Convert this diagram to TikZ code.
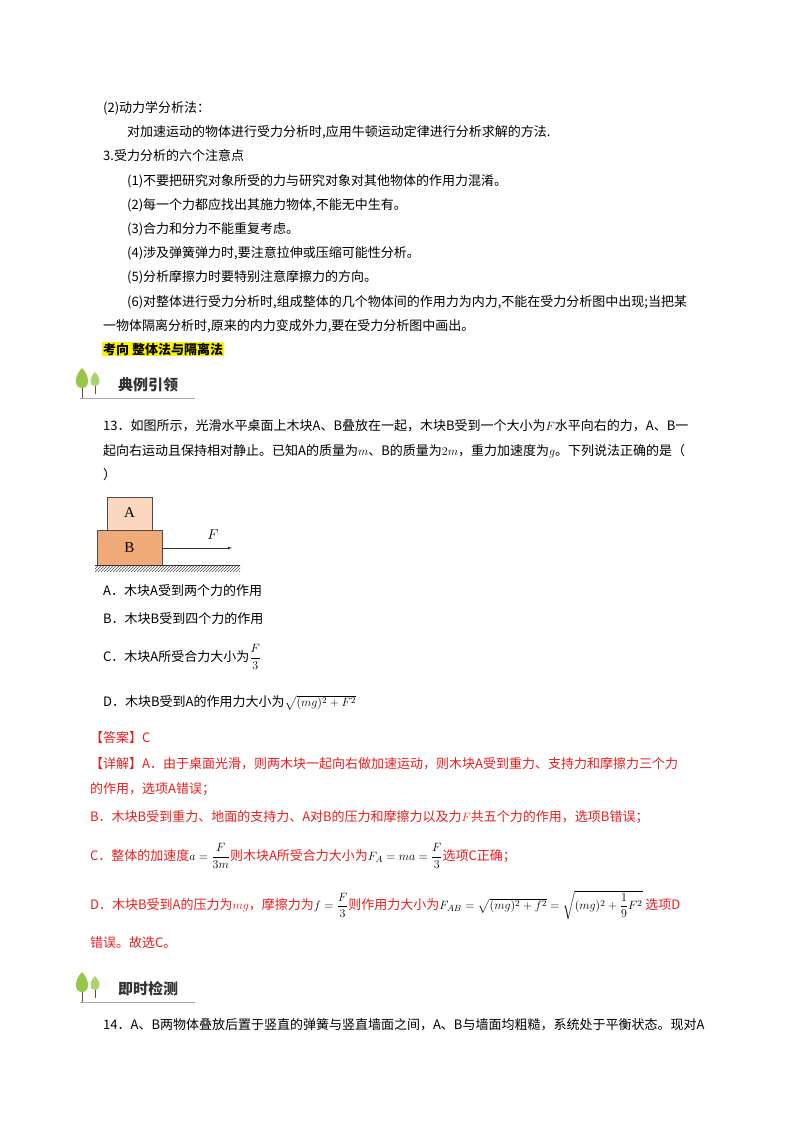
\documentclass[tikz,border=0pt]{standalone}
\usepackage{amsmath}
\usepackage{fontspec}
\setmainfont{Noto Sans CJK SC}
\usetikzlibrary{patterns}
\definecolor{ans}{RGB}{235,30,30}
\definecolor{boxA}{RGB}{250,215,190}
\definecolor{boxB}{RGB}{240,170,120}
\definecolor{leaf}{RGB}{150,200,70}
\begin{document}
\begin{tikzpicture}[x=1pt,y=-1pt,
  tx/.style={anchor=west,inner sep=0pt,font=\fontsize{13}{16}\selectfont},
  rt/.style={tx,text=ans},
  badge/.style={anchor=west,inner sep=0pt,font=\fontsize{15}{18}\selectfont\bfseries,text=black!80}]
\useasboundingbox[fill=white] (0,0) rectangle (800,1132);
\node[tx] (l1) at (103,108) {(2)动力学分析法：};
\node[tx] (l2) at (127,132) {对加速运动的物体进行受力分析时,应用牛顿运动定律进行分析求解的方法.};
\node[tx] (l3) at (103,156) {3.受力分析的六个注意点};
\node[tx] (l4) at (127,181) {(1)不要把研究对象所受的力与研究对象对其他物体的作用力混淆。};
\node[tx] (l5) at (127,205) {(2)每一个力都应找出其施力物体,不能无中生有。};
\node[tx] (l6) at (127,229) {(3)合力和分力不能重复考虑。};
\node[tx] (l7) at (127,253) {(4)涉及弹簧弹力时,要注意拉伸或压缩可能性分析。};
\node[tx] (l8) at (127,277) {(5)分析摩擦力时要特别注意摩擦力的方向。};
\node[tx] (l9) at (127,302) {(6)对整体进行受力分析时,组成整体的几个物体间的作用力为内力,不能在受力分析图中出现;当把某};
\node[tx] (l10) at (103,326) {一物体隔离分析时,原来的内力变成外力,要在受力分析图中画出。};
\node[tx,fill=yellow,inner sep=1pt,font=\fontsize{13}{16}\selectfont\bfseries] (kx) at (102,349) {考向\ 整体法与隔离法};
\foreach \yy/\txt/\nm in {384/典例引领/b1, 988/即时检测/b2}{
  \draw[black!35,line width=1pt] (80,\yy+14) -- (195,\yy+14);
  \draw[brown!60!black,line width=1pt] (82,\yy-4) -- (82,\yy+14);
  \fill[leaf] (82,\yy-16) .. controls (74,\yy-8) and (74,\yy+4) .. (82,\yy+4) .. controls (90,\yy+4) and (90,\yy-8) .. (82,\yy-16);
  \draw[brown!60!black,line width=0.8pt] (95,\yy-2) -- (95,\yy+10);
  \fill[leaf!80] (95,\yy-12) .. controls (89,\yy-6) and (89,\yy+2) .. (95,\yy+2) .. controls (101,\yy+2) and (101,\yy-6) .. (95,\yy-12);
  \node[badge] (\nm) at (118,\yy+1) {\txt};
}
\node[tx] (q1) at (103,426) {13．如图所示，光滑水平桌面上木块A、B叠放在一起，木块B受到一个大小为$F$水平向右的力，A、B一};
\node[tx] (q2) at (103,451) {起向右运动且保持相对静止。已知A的质量为$m$、B的质量为$2m$，重力加速度为$g$。下列说法正确的是（};
\node[tx] (q3) at (103,475) {）};
\draw[fill=boxA,draw=black!70] (107,497) rectangle (152,530);
\node (A) at (129.5,513) {\fontsize{15}{15}\selectfont\fontspec{Liberation Serif}A};
\draw[fill=boxB,draw=black!70] (97,530) rectangle (162,565);
\node (B) at (129.5,548) {\fontsize{15}{15}\selectfont\fontspec{Liberation Serif}B};
\fill[pattern=north east lines,pattern color=black!70] (95,565) rectangle (240,571);
\draw[black!80] (95,565) -- (240,565);
\coordinate (fe) at (232,548);
\draw[-latex,black!80] (162,548) -- (fe);
\node (F) at (213,535) {\fontsize{15}{15}\selectfont$F$};
\node[tx] (oA) at (103,591) {A．木块A受到两个力的作用};
\node[tx] (oB) at (103,619) {B．木块B受到四个力的作用};
\node[tx] (oC) at (103,657) {C．木块A所受合力大小为$\dfrac{F}{3}$};
\node[tx] (oD) at (103,703) {D．木块B受到A的作用力大小为$\sqrt{(mg)^2+F^2}$};
\node[rt] (an) at (90,738) {【答案】C};
\node[rt] (d1) at (90,764) {【详解】A．由于桌面光滑，则两木块一起向右做加速运动，则木块A受到重力、支持力和摩擦力三个力};
\node[rt] (d2) at (90,789) {的作用，选项A错误；};
\node[rt] (d3) at (90,817) {B．木块B受到重力、地面的支持力、A对B的压力和摩擦力以及力$F$共五个力的作用，选项B错误；};
\node[rt] (d4) at (90,856) {C．整体的加速度{\color{black}$a=\dfrac{F}{3m}$}则木块A所受合力大小为{\color{black}$F_A=ma=\dfrac{F}{3}$}选项C正确；};
\node[rt] (d5) at (90,905) {D．木块B受到A的压力为$mg$，摩擦力为{\color{black}$f=\dfrac{F}{3}$}则作用力大小为{\color{black}$F_{AB}=\sqrt{(mg)^2+f^2}=\sqrt{(mg)^2+\dfrac{1}{9}F^2}$}\ 选项D};
\node[rt] (d6) at (90,943) {错误。故选C。};
\node[tx] (p1) at (103,1025) {14．A、B两物体叠放后置于竖直的弹簧与竖直墙面之间，A、B与墙面均粗糙，系统处于平衡状态。现对A};
\end{tikzpicture}
\end{document}
